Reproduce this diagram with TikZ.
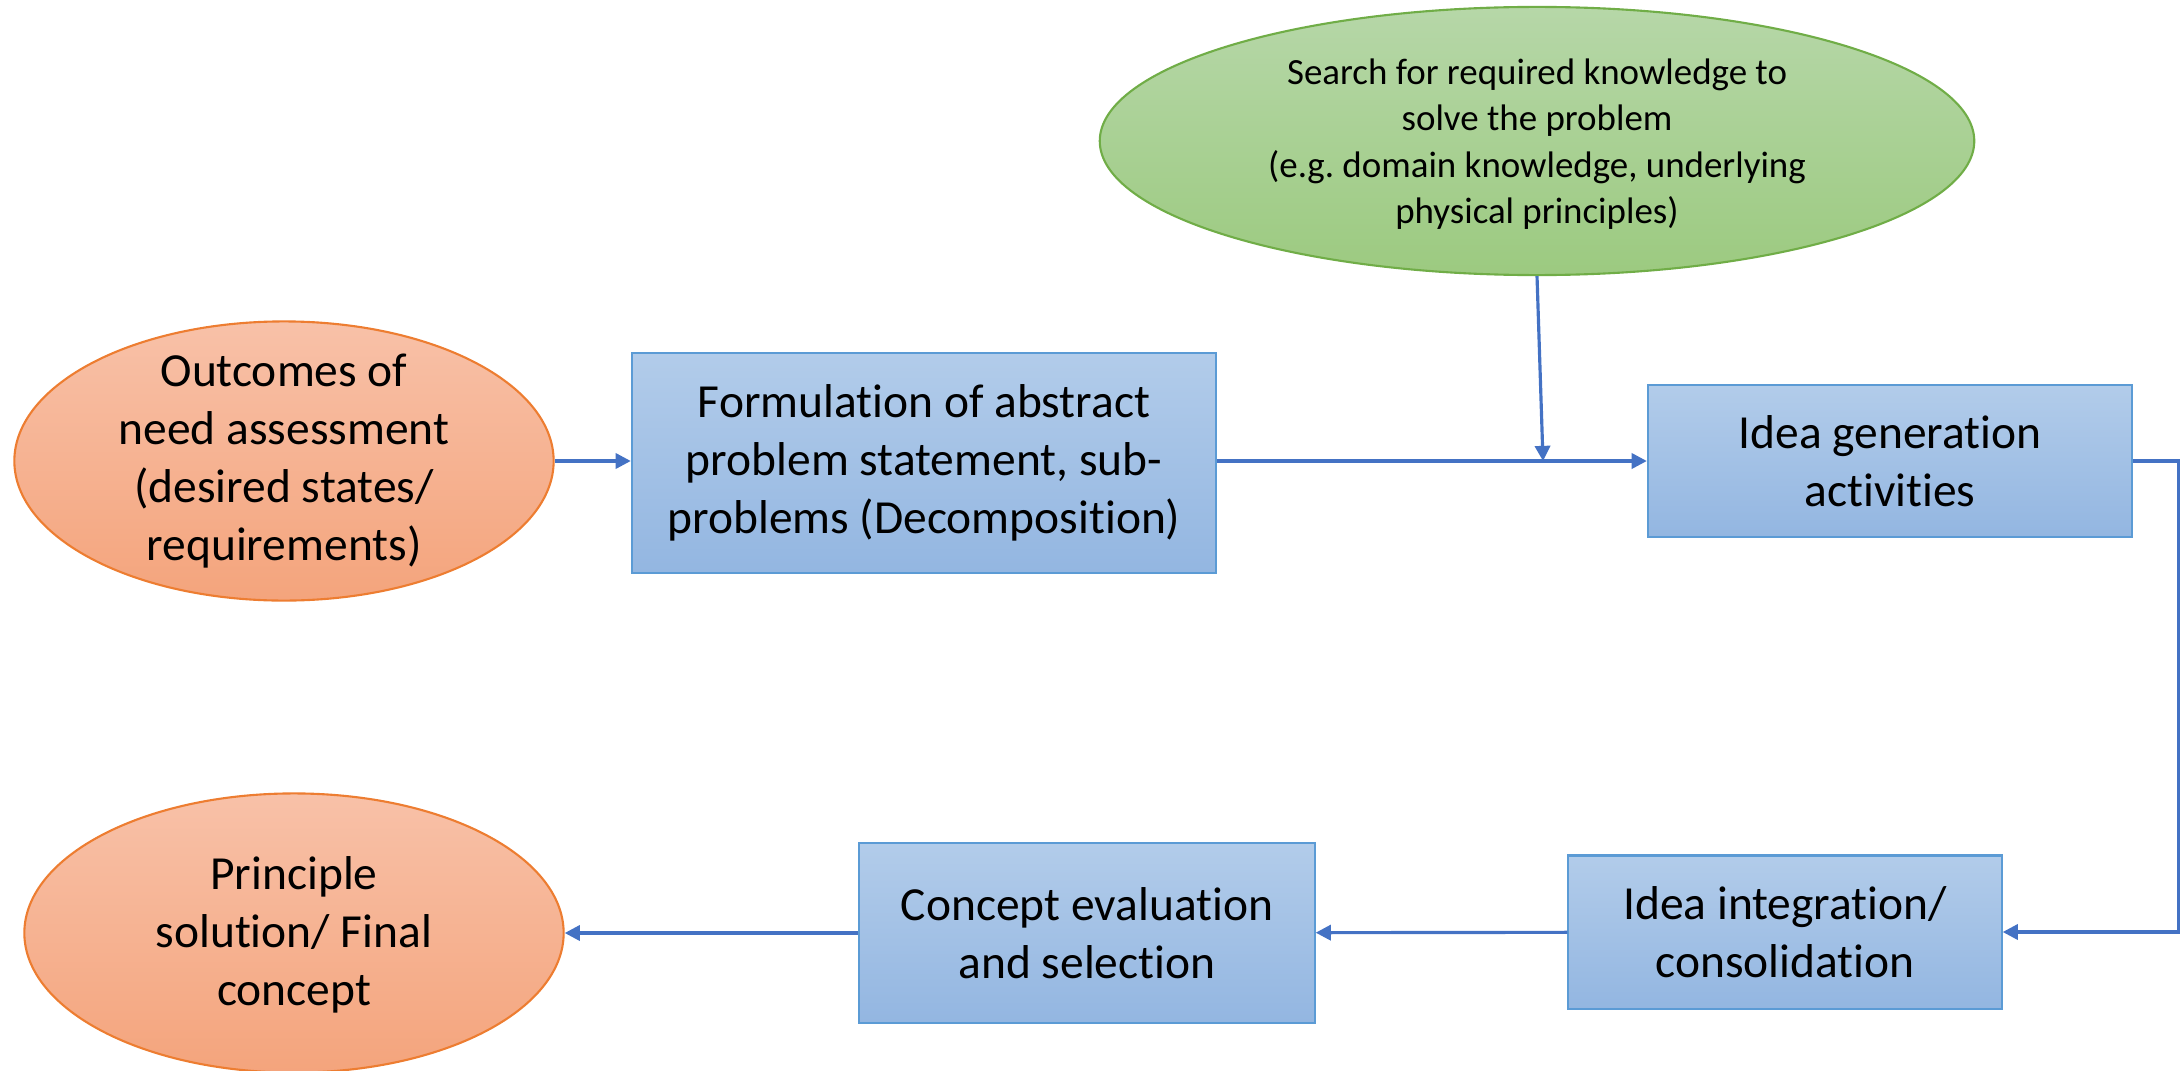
\documentclass[tikz,border=0pt]{standalone}
\usepackage{fontspec}
\setmainfont{Carlito}[RawFeature={-liga;-clig;-calt;-dlig}]
\usetikzlibrary{arrows.meta, shapes.geometric}

\definecolor{orangetop}{HTML}{F8C1A8}
\definecolor{orangebot}{HTML}{F4A47C}
\definecolor{orangeline}{HTML}{ED7D31}
\definecolor{bluetop}{HTML}{B2CCEA}
\definecolor{bluebot}{HTML}{93B6E1}
\definecolor{blueline}{HTML}{5B9BD5}
\definecolor{greentop}{HTML}{B6D7A8}
\definecolor{greenbot}{HTML}{9CCA80}
\definecolor{greenline}{HTML}{70AD47}
\definecolor{arrowblue}{HTML}{4472C4}

\begin{document}
\begin{tikzpicture}[
  x=0.01cm, y=-0.01cm,
  oval/.style={ellipse, draw=orangeline, line width=0.6pt, top color=orangetop, bottom color=orangebot, inner sep=0pt, minimum width=5.39cm, minimum height=2.79cm},
  greenoval/.style={ellipse, draw=greenline, line width=0.6pt, top color=greentop, bottom color=greenbot, inner sep=0pt, minimum width=8.74cm, minimum height=2.68cm},
  stepbox/.style={rectangle, draw=blueline, line width=0.6pt, top color=bluetop, bottom color=bluebot, inner sep=0pt},
  txt/.style={align=center, font=\fontsize{13.5pt}{16.5pt}\selectfont},
  smalltxt/.style={align=center, font=\fontsize{10.5pt}{13.2pt}\selectfont},
  arrow/.style={-{Triangle[length=4.3pt, width=4.3pt]}, line width=0.9pt, draw=arrowblue}
]
\useasboundingbox (0,0) rectangle (2180,1070);

\node (outc) [oval] at (284,461) {};
\node (outctxt) [txt] at (outc) {Outcomes of\\need assessment\\(desired states/\\requirements)};
\node (form) [stepbox, minimum width=5.84cm, minimum height=2.2cm, txt] at (924,463) {Formulation of abstract\\problem statement, sub-\\problems (Decomposition)};
\node (search) [greenoval] at (1537,141) {};
\node (searchtxt) [smalltxt] at (1537,144) {Search for required knowledge to\\solve the problem\\(e.g.\ domain knowledge, underlying\\physical principles)};
\node (gen) [stepbox, minimum width=4.84cm, minimum height=1.52cm, txt] at (1890,461) {Idea generation\\activities};
\node (integ) [stepbox, minimum width=4.33cm, minimum height=1.53cm, txt] at (1785,932) {Idea integration/\\consolidation};
\node (concept) [stepbox, minimum width=4.55cm, minimum height=1.8cm, txt] at (1087,933) {Concept evaluation\\and selection};
\node (princ) [oval] at (294,933) {};
\node (princtxt) [txt] at (294,935) {Principle\\solution/ Final\\concept};

\coordinate (join) at (1543,461);

\draw[arrow] (outc) -- (form.west |- outc);
\draw[arrow] (form.east |- gen) -- (gen);
\draw[arrow] (search.south) -- (join);
\draw[arrow] (gen.east) -- ++(45,0) |- (integ.east);
\draw[arrow] (integ) -- (concept);
\draw[arrow] (concept) -- (princ);

\end{tikzpicture}
\end{document}
